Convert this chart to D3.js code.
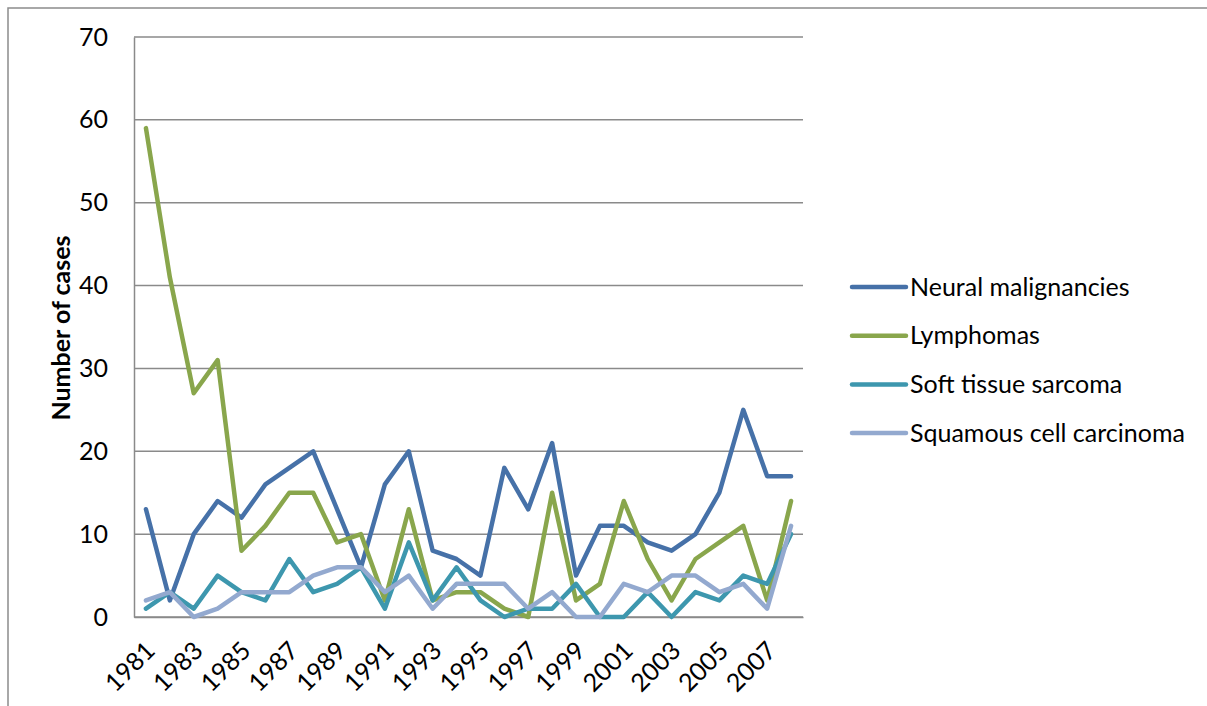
<!DOCTYPE html>
<html>
<head>
<meta charset="utf-8">
<script src="https://cdn.jsdelivr.net/npm/d3@7"></script>
<style>
  body { margin: 0; background: #fff; }
  svg { display: block; font-family: Lato, "Open Sans", sans-serif; }
</style>
</head>
<body>
<div id="chart"></div>
<script>
var years = [1981, 1982, 1983, 1984, 1985, 1986, 1987, 1988, 1989, 1990,
             1991, 1992, 1993, 1994, 1995, 1996, 1997, 1998, 1999, 2000,
             2001, 2002, 2003, 2004, 2005, 2006, 2007, 2008];

var neural   = [13, 2, 10, 14, 12, 16, 18, 20, 13, 6, 16, 20, 8, 7, 5, 18, 13, 21, 5, 11, 11, 9, 8, 10, 15, 25, 17, 17];
var lymphoma = [59, 41, 27, 31, 8, 11, 15, 15, 9, 10, 2, 13, 2, 3, 3, 1, 0, 15, 2, 4, 14, 7, 2, 7, 9, 11, 2, 14];
var softTissue = [1, 3, 1, 5, 3, 2, 7, 3, 4, 6, 1, 9, 2, 6, 2, 0, 1, 1, 4, 0, 0, 3, 0, 3, 2, 5, 4, 10];
var squamous = [2, 3, 0, 1, 3, 3, 3, 5, 6, 6, 3, 5, 1, 4, 4, 4, 1, 3, 0, 0, 4, 3, 5, 5, 3, 4, 1, 11];

var seriesNames = ["Neural malignancies", "Lymphomas", "Soft tissue sarcoma", "Squamous cell carcinoma"];
var seriesColors = ["#4671a8", "#89a64c", "#3d97ae", "#93a9cf"];
var yTicks = [0, 10, 20, 30, 40, 50, 60, 70];

var series = [neural, lymphoma, softTissue, squamous];

var width = 1207, height = 706;
var plot = {left: 134, top: 37, right: 803, bottom: 617};

var svg = d3.select("#chart").append("svg")
    .attr("width", width)
    .attr("height", height);

// outer chart frame
svg.append("rect")
    .attr("x", 8).attr("y", 8)
    .attr("width", width).attr("height", height)
    .attr("fill", "none")
    .attr("stroke", "#8c8c8c")
    .attr("stroke-width", 1.5);

var x = d3.scalePoint()
    .domain(years)
    .range([plot.left, plot.right])
    .padding(0.5);

var y = d3.scaleLinear()
    .domain([0, 70])
    .range([plot.bottom, plot.top]);

// gridlines
svg.append("g")
  .selectAll("line")
  .data(yTicks)
  .enter()
  .append("line")
    .attr("x1", plot.left)
    .attr("x2", plot.right)
    .attr("y1", function(d) { return y(d); })
    .attr("y2", function(d) { return y(d); })
    .attr("stroke", "#8a8a8a")
    .attr("stroke-width", 1.5);

// y axis
var yAxis = svg.append("g")
    .attr("transform", "translate(" + plot.left + ",0)")
    .call(d3.axisLeft(y).tickValues(yTicks).tickSize(0).tickPadding(26));
yAxis.select(".domain").attr("stroke", "#8a8a8a").attr("stroke-width", 1.5);
yAxis.selectAll("text")
    .attr("font-size", 25)
    .attr("font-family", "Lato, sans-serif")
    .attr("fill", "#000");

// x axis, every other year labelled
var xAxis = svg.append("g")
    .attr("transform", "translate(0," + plot.bottom + ")")
    .call(d3.axisBottom(x)
      .tickValues(years.filter(function(d, i) { return i % 2 === 0; }))
      .tickSize(0));
xAxis.select(".domain").attr("stroke", "#8a8a8a").attr("stroke-width", 1.5);
xAxis.selectAll("text")
    .attr("font-size", 25)
    .attr("font-family", "Lato, sans-serif")
    .attr("fill", "#000")
    .attr("y", 0)
    .attr("dy", "0.35em")
    .attr("transform", "translate(4,29)rotate(-45)")
    .style("text-anchor", "end");

// y title
svg.append("text")
    .attr("transform", "translate(70,328)rotate(-90)")
    .attr("text-anchor", "middle")
    .attr("font-size", 25)
    .attr("font-weight", "bold")
    .text("Number of cases");

// lines
var line = d3.line()
    .x(function(d, i) { return x(years[i]); })
    .y(function(d) { return y(d); });

svg.append("g")
  .selectAll("path")
  .data(series)
  .enter()
  .append("path")
    .attr("d", line)
    .attr("fill", "none")
    .attr("stroke", function(d, i) { return seriesColors[i]; })
    .attr("stroke-width", 4.5)
    .attr("stroke-linejoin", "round")
    .attr("stroke-linecap", "round");

// legend
var legend = svg.append("g")
  .selectAll("g")
  .data(seriesNames)
  .enter()
  .append("g")
    .attr("transform", function(d, i) { return "translate(852," + (287 + i * 48.7) + ")"; });

legend.append("line")
    .attr("x1", 0).attr("x2", 54)
    .attr("stroke", function(d, i) { return seriesColors[i]; })
    .attr("stroke-width", 4.5)
    .attr("stroke-linecap", "round");

legend.append("text")
    .attr("x", 58)
    .attr("dy", "0.35em")
    .attr("font-size", 25)
    .text(function(d) { return d; });
</script>
</body>
</html>
